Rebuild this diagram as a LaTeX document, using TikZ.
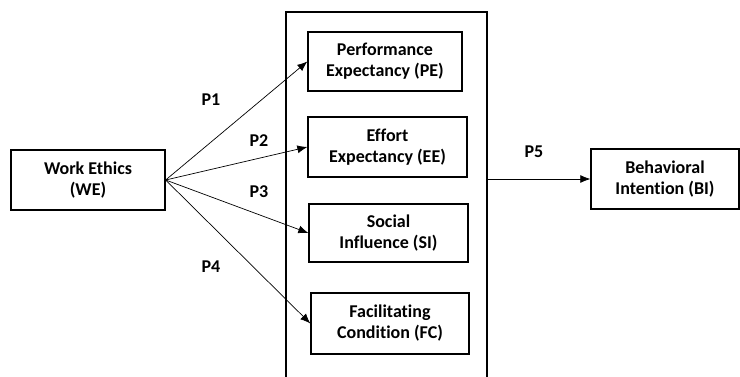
\documentclass[tikz,border=0pt]{standalone}
\usepackage{fontspec}
\setmainfont{Carlito}[Ligatures=NoCommon]
\usetikzlibrary{arrows.meta}

\tikzset{
  construct/.style={draw, line width=1.3pt, align=center, inner sep=0pt,
    font=\bfseries\fontsize{18}{21}\selectfont},
  link/.style={-{Latex[length=10pt,width=8pt]}, line width=0.7pt},
  plabel/.style={font=\bfseries\fontsize{18}{20}\selectfont}
}

\begin{document}
\begin{tikzpicture}[x=1pt, y=-1pt]
            \useasboundingbox (0,0) rectangle (740,376);
            \clip (0,0) rectangle (740,376);

            \node[draw, line width=1.3pt, minimum width=201pt, minimum height=380pt] (group) at (386.5,202) {};

            \node[construct, minimum width=154pt, minimum height=60pt] (WE) at (88,180) {Work Ethics\\(WE)};

            \node[construct, minimum width=154pt, minimum height=59pt] (PE) at (385,61.5) {Performance\\Expectancy (PE)};
            \node[construct, minimum width=159pt, minimum height=60pt] (EE) at (387.5,147) {Effort\\Expectancy (EE)};
            \node[construct, minimum width=159pt, minimum height=58pt] (SI) at (388.5,233) {Social\\Influence (SI)};
            \node[construct, minimum width=158pt, minimum height=61pt] (FC) at (390,323.5) {Facilitating\\Condition (FC)};

            \node[construct, minimum width=148pt, minimum height=60pt] (BI) at (665,179) {Behavioral\\Intention (BI)};

            \draw[link] (WE.east) -- (PE.west);
            \draw[link] (WE.east) -- (EE.west);
            \draw[link] (WE.east) -- (SI.west);
            \draw[link] (WE.east) -- (FC.west);
            \draw[link] (group.east |- BI.west) -- (BI.west);

            \node[plabel] (P1) at (211,100) {P1};
            \node[plabel] (P2) at (259,141) {P2};
            \node[plabel] (P3) at (259,192) {P3};
            \node[plabel] (P4) at (211,267) {P4};
            \node[plabel] (P5) at (534,152) {P5};

        \end{tikzpicture}
\end{document}
